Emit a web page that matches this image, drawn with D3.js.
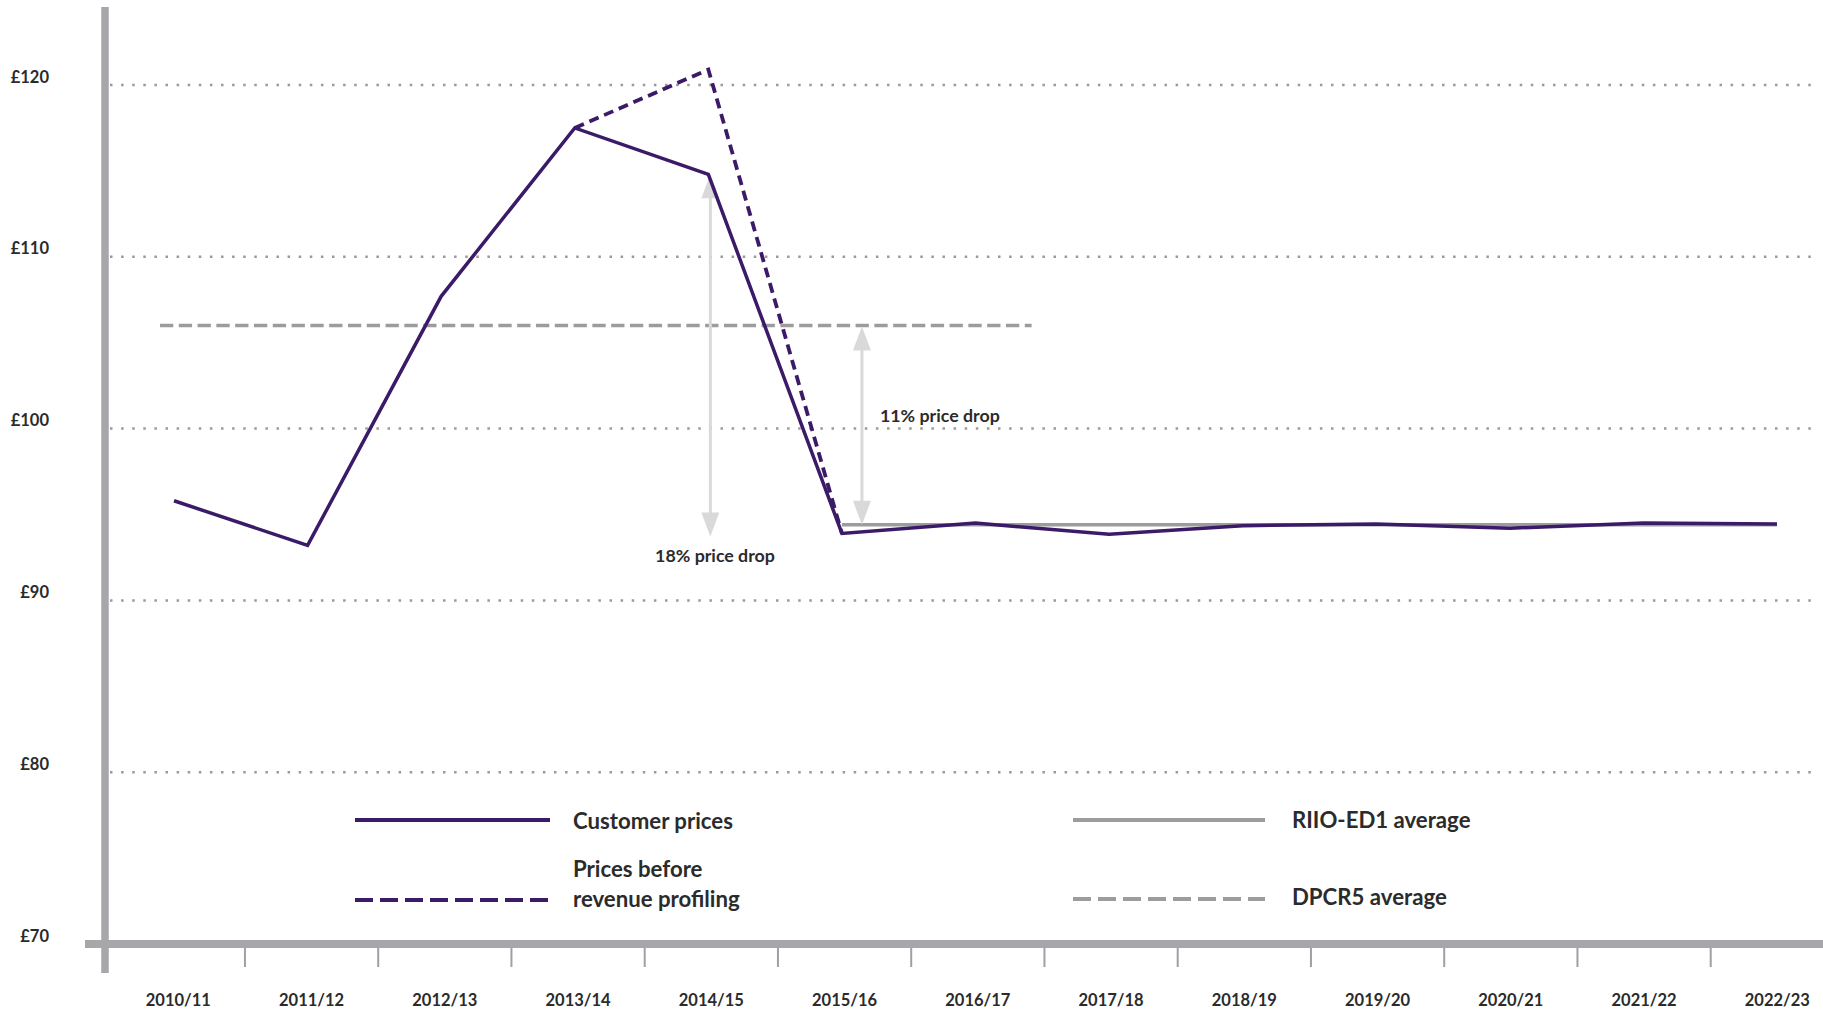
<!DOCTYPE html>
<html>
<head>
<meta charset="utf-8">
<script src="https://cdn.jsdelivr.net/npm/d3@7"></script>
<style>
  html, body { margin: 0; padding: 0; background: #ffffff; }
  svg { display: block; }
  text { font-family: Lato, "Open Sans", sans-serif; font-weight: 700; fill: #2b2b2b; }
</style>
</head>
<body>
<svg id="chart" width="1823" height="1010"></svg>
<script>
// ---------------- DATA ----------------
const categories = ["2010/11","2011/12","2012/13","2013/14","2014/15","2015/16","2016/17",
                    "2017/18","2018/19","2019/20","2020/21","2021/22","2022/23"];
const customerPrices = [95.8, 93.2, 107.7, 117.5, 114.8, 93.9, 94.5, 93.85, 94.35, 94.45, 94.2, 94.5, 94.45];
const pricesBeforeProfiling = [null, null, null, 117.5, 120.9, 93.9, null, null, null, null, null, null, null];
const riioAverage = 94.4;
const riioPeriod = ["2015/16", "2022/23"];
const dpcr5Average = 106.0;
const yTicks = [70, 80, 90, 100, 110, 120];
const yTickLabels = ["£70", "£80", "£90", "£100", "£110", "£120"];
const gridValues = [80, 90, 100, 110, 120];
const annotations = ["18% price drop", "11% price drop"];
const legendLabels = ["Customer prices", ["Prices before", "revenue profiling"], "RIIO-ED1 average", "DPCR5 average"];

// ---------------- STYLE ----------------
const purple = "#3b1a68";
const grey = "#9c9c9f";
const axisGrey = "#a7a6ab";
const arrowGrey = "#d9d9d9";

const svg = d3.select("#chart");

// scales
const xBand = d3.scaleBand().domain(categories).range([111.7, 111.7 + 13 * 133.25]).padding(0);
const xPt = d3.scalePoint().domain(categories).range([174, 1777]);
const step = xPt.step();
const y = d3.scaleLinear().domain([70, 120]).range([944, 85]);

// gridlines
svg.append("g").selectAll("line").data(gridValues).join("line")
  .attr("x1", 110).attr("x2", 1811)
  .attr("y1", d => y(d)).attr("y2", d => y(d))
  .attr("stroke", "#9a9a9a").attr("stroke-width", 2.5)
  .attr("stroke-dasharray", "2.5,8.6");

// axes lines
svg.append("line").attr("x1", 105).attr("x2", 105).attr("y1", 7).attr("y2", 973)
  .attr("stroke", axisGrey).attr("stroke-width", 7.5);
svg.append("line").attr("x1", 85).attr("x2", 1823).attr("y1", y(70)).attr("y2", y(70))
  .attr("stroke", axisGrey).attr("stroke-width", 8);

// boundary ticks (between categories)
svg.append("g").selectAll("line").data(categories.slice(1)).join("line")
  .attr("x1", d => xBand(d)).attr("x2", d => xBand(d))
  .attr("y1", y(70) + 4).attr("y2", y(70) + 23)
  .attr("stroke", "#a0a0a0").attr("stroke-width", 2);

// x axis labels
const xAxis = svg.append("g").attr("transform", `translate(0,${y(70)})`)
  .call(d3.axisBottom(xBand).tickSize(0));
xAxis.select(".domain").remove();
xAxis.selectAll("text")
  .attr("y", 62).attr("dy", 0)
  .style("font-family", "Lato, sans-serif").style("font-weight", 700)
  .style("font-size", "16.5px").style("fill", "#2b2b2b");

// y axis labels
const yAxis = svg.append("g").attr("transform", "translate(49,0)")
  .call(d3.axisLeft(y).tickValues(yTicks).tickFormat((d, i) => yTickLabels[i]).tickSize(0).tickPadding(0));
yAxis.select(".domain").remove();
yAxis.selectAll("text")
  .attr("dy", 0).attr("y", -3)
  .style("font-family", "Lato, sans-serif").style("font-weight", 700)
  .style("font-size", "16.5px").style("fill", "#2b2b2b");

// DPCR5 average (dashed grey)
svg.append("line")
  .attr("x1", xPt(categories[0]) - step * 0.105).attr("x2", xPt("2016/17") + step * 0.42)
  .attr("y1", y(dpcr5Average)).attr("y2", y(dpcr5Average))
  .attr("stroke", grey).attr("stroke-width", 3.5).attr("stroke-dasharray", "13.3,5.5");

// RIIO-ED1 average (solid grey)
svg.append("line")
  .attr("x1", xPt(riioPeriod[0])).attr("x2", xPt(riioPeriod[1]))
  .attr("y1", y(riioAverage)).attr("y2", y(riioAverage))
  .attr("stroke", grey).attr("stroke-width", 3.5);

// arrows
function doubleArrow(x, yTop, yBot) {
  const g = svg.append("g");
  const hw = 9, hl = 24;
  g.append("line").attr("x1", x).attr("x2", x).attr("y1", yTop + hl - 2).attr("y2", yBot - hl + 2)
    .attr("stroke", arrowGrey).attr("stroke-width", 3);
  g.append("path").attr("d", `M${x},${yTop} L${x - hw},${yTop + hl} L${x + hw},${yTop + hl} Z`).attr("fill", arrowGrey);
  g.append("path").attr("d", `M${x},${yBot} L${x - hw},${yBot - hl} L${x + hw},${yBot - hl} Z`).attr("fill", arrowGrey);
}
doubleArrow(xPt("2014/15") + step * 0.015, y(customerPrices[4]), y(customerPrices[5]) + 3);
doubleArrow(xPt("2015/16") + step * 0.15, y(dpcr5Average) + 1, y(riioAverage));

// lines
const line = d3.line().defined(d => d.v != null).x(d => xPt(d.c)).y(d => y(d.v));
svg.append("path")
  .datum(categories.map((c, i) => ({ c, v: pricesBeforeProfiling[i] })))
  .attr("d", line).attr("fill", "none").attr("stroke", purple)
  .attr("stroke-width", 3.8).attr("stroke-dasharray", "10,6").attr("stroke-linejoin", "miter");
svg.append("path")
  .datum(categories.map((c, i) => ({ c, v: customerPrices[i] })))
  .attr("d", line).attr("fill", "none").attr("stroke", purple)
  .attr("stroke-width", 3.5).attr("stroke-linejoin", "miter");

// annotations
svg.append("text").attr("x", xPt("2014/15") + step * 0.05).attr("y", 562).attr("text-anchor", "middle")
  .style("font-size", "17.8px").text(annotations[0]);
svg.append("text").attr("x", xPt("2015/16") + step * 0.285).attr("y", 422).attr("text-anchor", "start")
  .style("font-size", "17.8px").text(annotations[1]);

// legend
const lg = svg.append("g");
lg.append("line").attr("x1", 355).attr("x2", 550).attr("y1", 820).attr("y2", 820)
  .attr("stroke", purple).attr("stroke-width", 4);
lg.append("line").attr("x1", 355).attr("x2", 550).attr("y1", 900).attr("y2", 900)
  .attr("stroke", purple).attr("stroke-width", 4).attr("stroke-dasharray", "18,7");
lg.append("line").attr("x1", 1073).attr("x2", 1265).attr("y1", 820).attr("y2", 820)
  .attr("stroke", grey).attr("stroke-width", 4);
lg.append("line").attr("x1", 1073).attr("x2", 1265).attr("y1", 899).attr("y2", 899)
  .attr("stroke", grey).attr("stroke-width", 4).attr("stroke-dasharray", "18,7");

const lfs = "22.2px";
lg.append("text").attr("x", 573).attr("y", 829).style("font-size", lfs).text(legendLabels[0]);
lg.append("text").attr("x", 573).attr("y", 877).style("font-size", lfs).text(legendLabels[1][0]);
lg.append("text").attr("x", 573).attr("y", 907).style("font-size", lfs).text(legendLabels[1][1]);
lg.append("text").attr("x", 1292).attr("y", 828).style("font-size", lfs).text(legendLabels[2]);
lg.append("text").attr("x", 1292).attr("y", 905).style("font-size", lfs).text(legendLabels[3]);
</script>
</body>
</html>
